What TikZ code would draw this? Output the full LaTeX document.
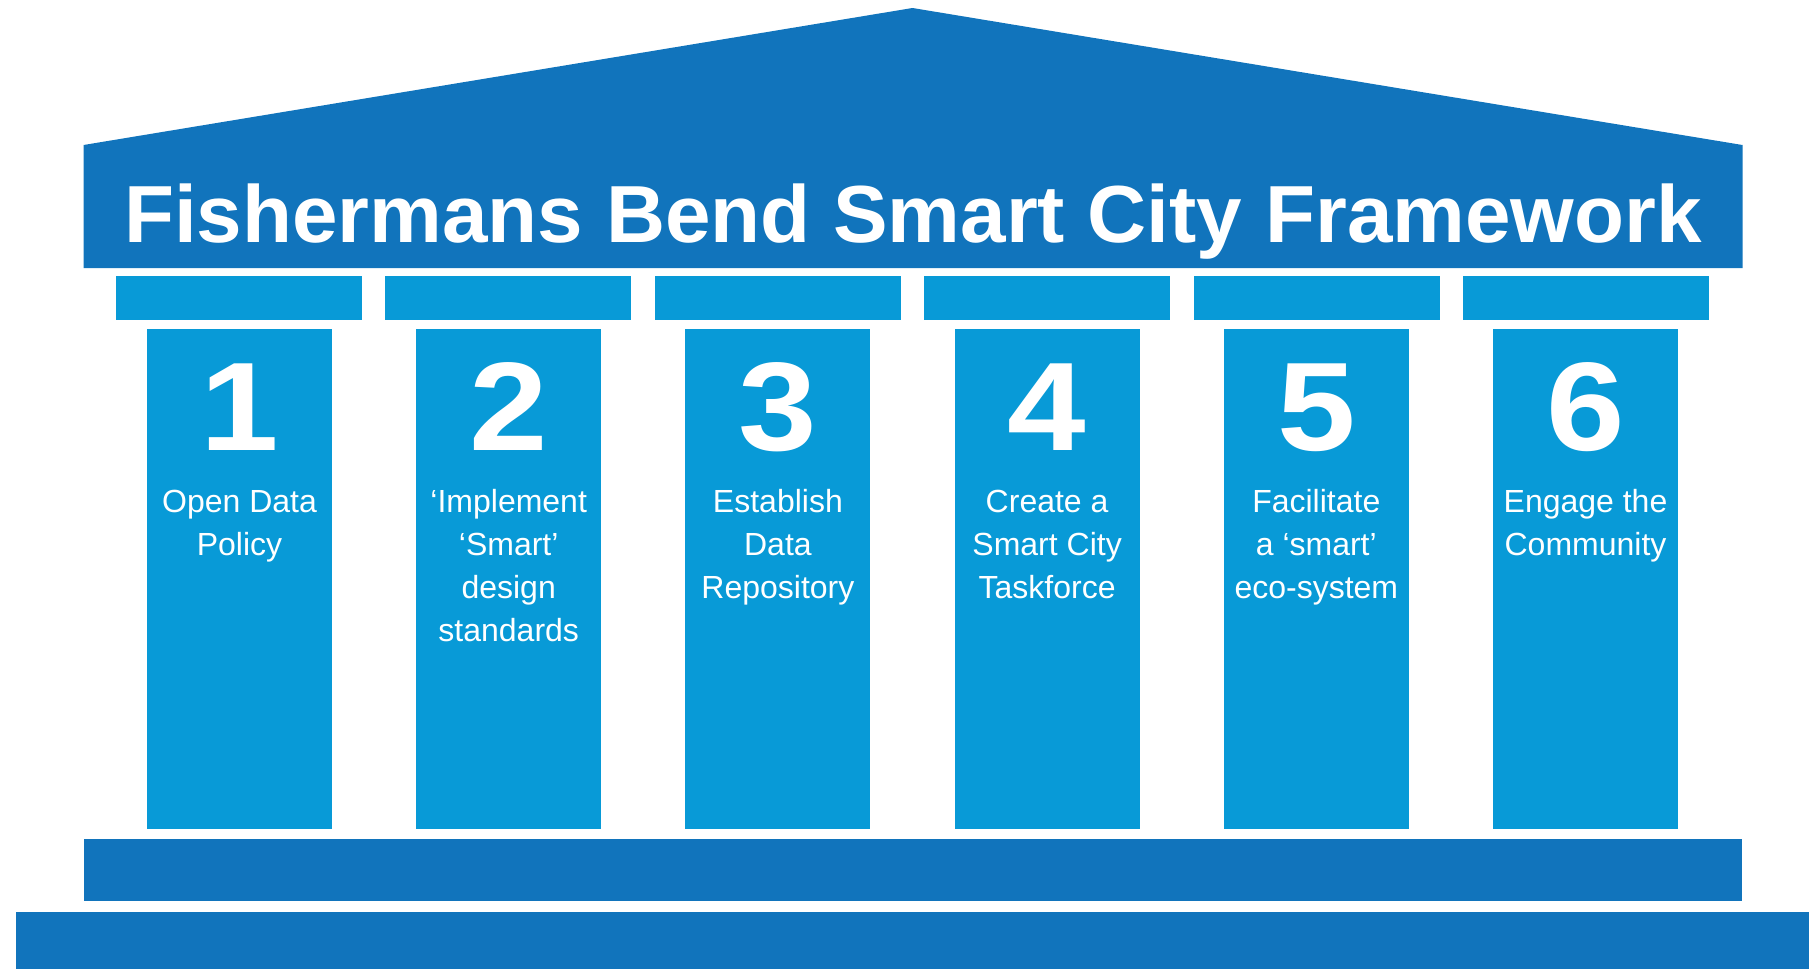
\documentclass[tikz,border=0pt]{standalone}
\usepackage{fontspec}
\setmainfont{Liberation Sans}
\definecolor{roofblue}{HTML}{1174BC}
\definecolor{pillarblue}{HTML}{089AD7}
\begin{document}
\begin{tikzpicture}[x=1pt,y=-1pt,
  roofshape/.style={fill=roofblue},
  capshape/.style={fill=pillarblue},
  titletext/.style={text=white,inner sep=0pt,xscale=1.01,font=\bfseries\fontsize{81}{81}\selectfont},
  numtext/.style={text=white,inner sep=0pt,xscale=1.12,font=\bfseries\fontsize{126}{126}\selectfont},
  bodytext/.style={text=white,inner sep=0pt,font=\fontsize{32}{43}\selectfont}]
\useasboundingbox (0,0) rectangle (1818,969);
% roof
\fill[roofshape] (83.5,268) -- (83.5,145) -- (912.5,8) -- (1742.5,145) -- (1742.5,268) -- cycle;
\node[titletext,anchor=base] (title) at (913,242) {Fishermans Bend Smart City Framework};
% caps and pillars
\foreach \i in {0,...,5}{
  \fill[capshape] ({116+269.4*\i},276) rectangle ({362+269.4*\i},320);
  \fill[capshape] ({147+269.2*\i},329) rectangle ({332+269.2*\i},829);
}
% bases
\fill[roofshape] (83.5,839) rectangle (1741.5,901);
\fill[roofshape] (16,912) rectangle (1809,969);
% numbers
\foreach \i in {1,...,6}{
  \node[numtext,anchor=base] (num\i) at ({239.5+269.2*(\i-1)},450) {\i};
}
\node[bodytext,anchor=base] (txt1) at (239.5,512) {\parbox[t]{220pt}{\centering Open Data\\Policy}};
\node[bodytext,anchor=base] (txt2) at (508.7,512) {\parbox[t]{220pt}{\centering ‘Implement\\‘Smart’\\design\\standards}};
\node[bodytext,anchor=base] (txt3) at (777.9,512) {\parbox[t]{220pt}{\centering Establish\\Data\\Repository}};
\node[bodytext,anchor=base] (txt4) at (1047.1,512) {\parbox[t]{220pt}{\centering Create a\\Smart City\\Taskforce}};
\node[bodytext,anchor=base] (txt5) at (1316.3,512) {\parbox[t]{220pt}{\centering Facilitate\\a ‘smart’\\eco-system}};
\node[bodytext,anchor=base] (txt6) at (1585.5,512) {\parbox[t]{220pt}{\centering Engage the\\Community}};
\end{tikzpicture}
\end{document}
